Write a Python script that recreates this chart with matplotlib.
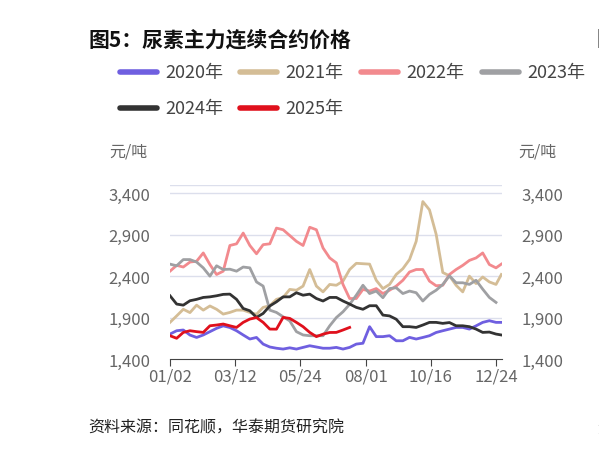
import matplotlib
matplotlib.use("Agg")
import matplotlib.pyplot as plt
from matplotlib.lines import Line2D

plt.rcParams['font.family'] = ['Noto Sans CJK SC', 'DejaVu Sans']
plt.rcParams['axes.unicode_minus'] = False

# 交易日序号（每5个交易日取一个点）
idx = list(range(0, 250, 5))  # 0..245
idx_full = idx + [249]

y2020 = [1701, 1741, 1750, 1689, 1660, 1690, 1730, 1770, 1800, 1780,
         1741, 1690, 1641, 1660, 1580, 1545, 1530, 1520, 1535, 1520,
         1540, 1560, 1545, 1530, 1530, 1540, 1520, 1540, 1580, 1590,
         1790, 1670, 1670, 1681, 1620, 1620, 1661, 1641, 1660, 1681,
         1720, 1741, 1761, 1781, 1781, 1761, 1800, 1842, 1862, 1842, 1842]
y2021 = [1842, 1920, 2000, 1960, 2050, 1990, 2040, 2000, 1942, 1962,
         1990, 1990, 1962, 1940, 2023, 2043, 2120, 2143, 2240, 2230,
         2280, 2480, 2280, 2210, 2300, 2290, 2340, 2480, 2555, 2550,
         2545, 2350, 2250, 2300, 2420, 2490, 2600, 2820, 3300, 3200,
         2906, 2444, 2404, 2290, 2210, 2400, 2310, 2390, 2330, 2300, 2420]
y2022 = [2460, 2530, 2510, 2570, 2580, 2680, 2540, 2420, 2460, 2770,
         2790, 2920, 2770, 2670, 2780, 2790, 2980, 2960, 2890, 2820,
         2770, 2990, 2960, 2740, 2620, 2560, 2300, 2130, 2130, 2240,
         2220, 2250, 2190, 2230, 2280, 2350, 2450, 2480, 2480, 2340,
         2284, 2290, 2420, 2480, 2530, 2590, 2620, 2680, 2540, 2500, 2545]
y2023 = [2545, 2525, 2600, 2600, 2570, 2500, 2400, 2525, 2480, 2484,
         2460, 2510, 2500, 2330, 2280, 1990, 1962, 1910, 1860, 1730,
         1690, 1681, 1681, 1681, 1800, 1900, 1970, 2060, 2170, 2290,
         2190, 2220, 2140, 2250, 2260, 2190, 2220, 2200, 2100, 2180,
         2230, 2300, 2404, 2320, 2320, 2300, 2350, 2243, 2143, 2083]
y2024 = [2163, 2063, 2050, 2103, 2120, 2143, 2150, 2163, 2180, 2183,
         2120, 2010, 1982, 1902, 1950, 2040, 2090, 2150, 2150, 2200,
         2170, 2183, 2130, 2100, 2143, 2143, 2100, 2063, 2023, 2000,
         2043, 2043, 1930, 1920, 1880, 1790, 1790, 1781, 1810, 1842,
         1842, 1830, 1840, 1801, 1801, 1790, 1761, 1721, 1725, 1701, 1690]
y2025 = [1681, 1650, 1721, 1741, 1730, 1721, 1801, 1810, 1822, 1801,
         1781, 1842, 1882, 1900, 1842, 1761, 1760, 1902, 1890, 1842,
         1790, 1721, 1670, 1700, 1720, 1721, 1750, 1781]
idx2025 = idx[:len(y2025)]

series = [
    ('2020年', idx_full, y2020, '#6f5fe0'),
    ('2021年', idx_full, y2021, '#d4bd96'),
    ('2022年', idx_full, y2022, '#f28a8e'),
    ('2023年', idx, y2023, '#9fa0a3'),
    ('2024年', idx_full, y2024, '#333333'),
    ('2025年', idx2025, y2025, '#e0101c'),
]

tick_pos = [0, 49, 98, 147, 196, 245]
tick_lab = ['01/02', '03/12', '05/24', '08/01', '10/16', '12/24']
y_ticks = [1400, 1900, 2400, 2900, 3400]

W, H = 599, 477
fig = plt.figure(figsize=(W / 100, H / 100), dpi=100)
ax = fig.add_axes([170 / W, 1 - 360 / H, 332 / W, 174 / H])

for g in [1900, 2400, 2900, 3400, 3500]:
    ax.axhline(g, color='#dcdfec', lw=1.0, zorder=0)

for name, xs, ys, c in series:
    ax.plot(xs, ys, color=c, lw=2.0, solid_joinstyle='round', zorder=2)

ax.set_xlim(0, 249.5)
ax.set_ylim(1400, 3500)
ax.set_xticks(tick_pos)
ax.set_xticklabels(tick_lab)
ax.set_yticks(y_ticks)
ax.set_yticklabels([f'{v:,}' for v in y_ticks])
for s in ['top', 'right', 'left']:
    ax.spines[s].set_visible(False)
ax.spines['bottom'].set_color('#444444')
ax.tick_params(axis='x', length=5, color='#444444', labelcolor='#666666',
               labelsize=12, pad=1)
ax.tick_params(axis='y', length=0, labelcolor='#666666', labelsize=12,
               pad=14, labelright=True)

# 标题
fig.text(88 / W, 1 - 40 / H, '图5：尿素主力连续合约价格', fontsize=15,
         fontweight='bold', color='#111111', ha='left', va='center')
fig.text(596 / W, 1 - 40 / H, '图', fontsize=15, fontweight='bold',
         color='#111111', ha='left', va='center')

# 图例
leg_pos = [(120, 73), (240, 73), (361, 73), (482, 73), (120, 109), (240, 109)]
for (name, xs, ys, c), (lx, ly) in zip(series, leg_pos):
    fig.add_artist(Line2D([lx / W, (lx + 37) / W], [1 - ly / H, 1 - ly / H],
                          color=c, lw=4, solid_capstyle='round',
                          transform=fig.transFigure))
    fig.text((lx + 45) / W, 1 - ly / H, name, fontsize=13, color='#444444',
             ha='left', va='center')

fig.text(128 / W, 1 - 152 / H, '元/吨', fontsize=11.5, color='#666666',
         ha='center', va='center')
fig.text(537 / W, 1 - 152 / H, '元/吨', fontsize=11.5, color='#666666',
         ha='center', va='center')

fig.text(88 / W, 1 - 428 / H, '资料来源：同花顺，华泰期货研究院', fontsize=11.5,
         style='italic', color='#222222', ha='left', va='center')
fig.text(597 / W, 1 - 428 / H, '资', fontsize=11.5, style='italic',
         color='#222222', ha='left', va='center')

fig.savefig('out.png', dpi=100)
